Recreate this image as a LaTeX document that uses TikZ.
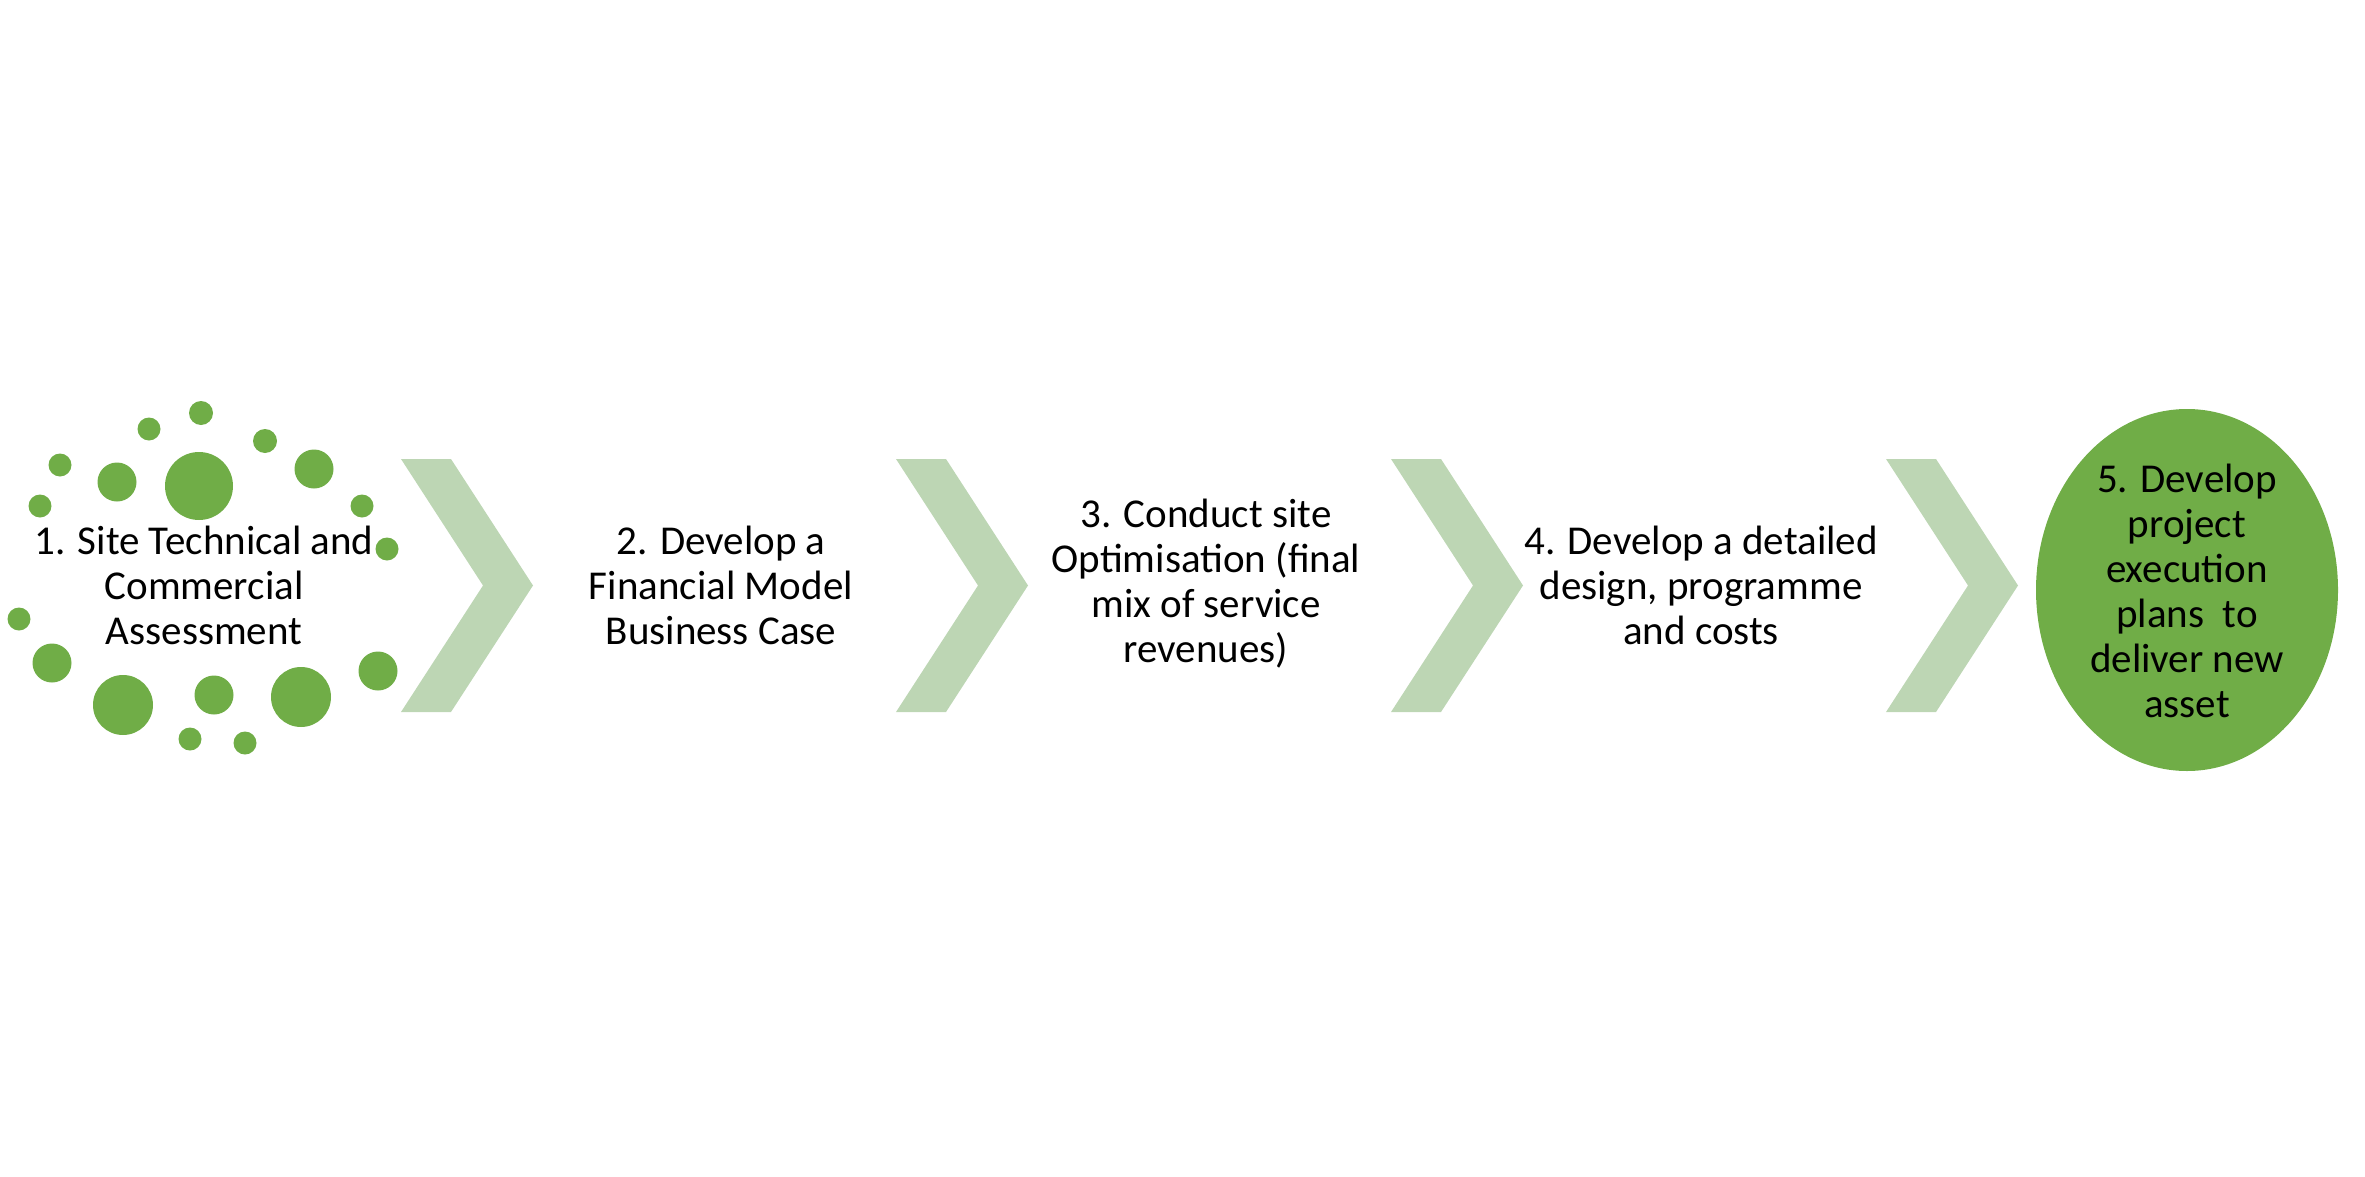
\documentclass[tikz,border=0pt]{standalone}
\usepackage{fontspec}
\setmainfont{Carlito}
\usetikzlibrary{shapes.geometric}
\definecolor{dotgreen}{RGB}{112,173,71}
\definecolor{chevgreen}{RGB}{189,214,180}
\begin{document}
\begin{tikzpicture}[x=1pt,y=-1pt,
  lbl/.style={align=center,inner sep=0pt,font=\fontsize{41}{45}\selectfont},
  chev/.style={fill=chevgreen},
  dotc/.style={circle,fill=dotgreen,inner sep=0pt,minimum size=#1}]
\useasboundingbox (0,0) rectangle (2365,1177);
% chevrons
\foreach \x in {401,896,1391,1886} {
  \fill[chev] (\x,459) -- ++(50,0) -- ++(82,126.5) -- ++(-82,126.5) -- ++(-50,0) -- ++(82,-126.5) -- cycle;
}
% final step ellipse
\node[ellipse,fill=dotgreen,minimum width=302pt,minimum height=362pt,inner sep=0pt] (e5) at (2187,590) {};
% labels
\node[lbl] (s1) at (204,585) {1. Site Technical and\\Commercial\\Assessment};
\node[lbl] (s2) at (721,585) {2. Develop a\\Financial Model\\Business Case};
\node[lbl] (s3) at (1206,584) {3. Conduct site\\Optimisation (final\\mix of service\\revenues)};
\node[lbl] (s4) at (1701,585) {4. Develop a detailed\\design, programme\\and costs};
\node[lbl] (s5) at (2187,591) {5. Develop\\project\\execution\\plans\ \ to\\deliver new\\asset};
% dots around step 1
\node[dotc=24pt] (d1) at (201,413) {};
\node[dotc=23pt] (d2) at (149,429) {};
\node[dotc=24pt] (d3) at (265,441) {};
\node[dotc=23pt] (d4) at (60,465) {};
\node[dotc=39pt] (d5) at (117,482) {};
\node[dotc=68pt] (d6) at (199,486) {};
\node[dotc=39pt] (d7) at (314,469) {};
\node[dotc=23pt] (d8) at (40,506) {};
\node[dotc=23pt] (d9) at (362,506) {};
\node[dotc=23pt] (d10) at (387,549) {};
\node[dotc=23pt] (d11) at (19,619) {};
\node[dotc=39pt] (d12) at (52,663) {};
\node[dotc=60pt] (d13) at (123,705) {};
\node[dotc=39pt] (d14) at (214,695) {};
\node[dotc=60pt] (d15) at (301,697) {};
\node[dotc=39pt] (d16) at (378,671) {};
\node[dotc=23pt] (d17) at (190,739) {};
\node[dotc=23pt] (d18) at (245,743) {};
\end{tikzpicture}
\end{document}
